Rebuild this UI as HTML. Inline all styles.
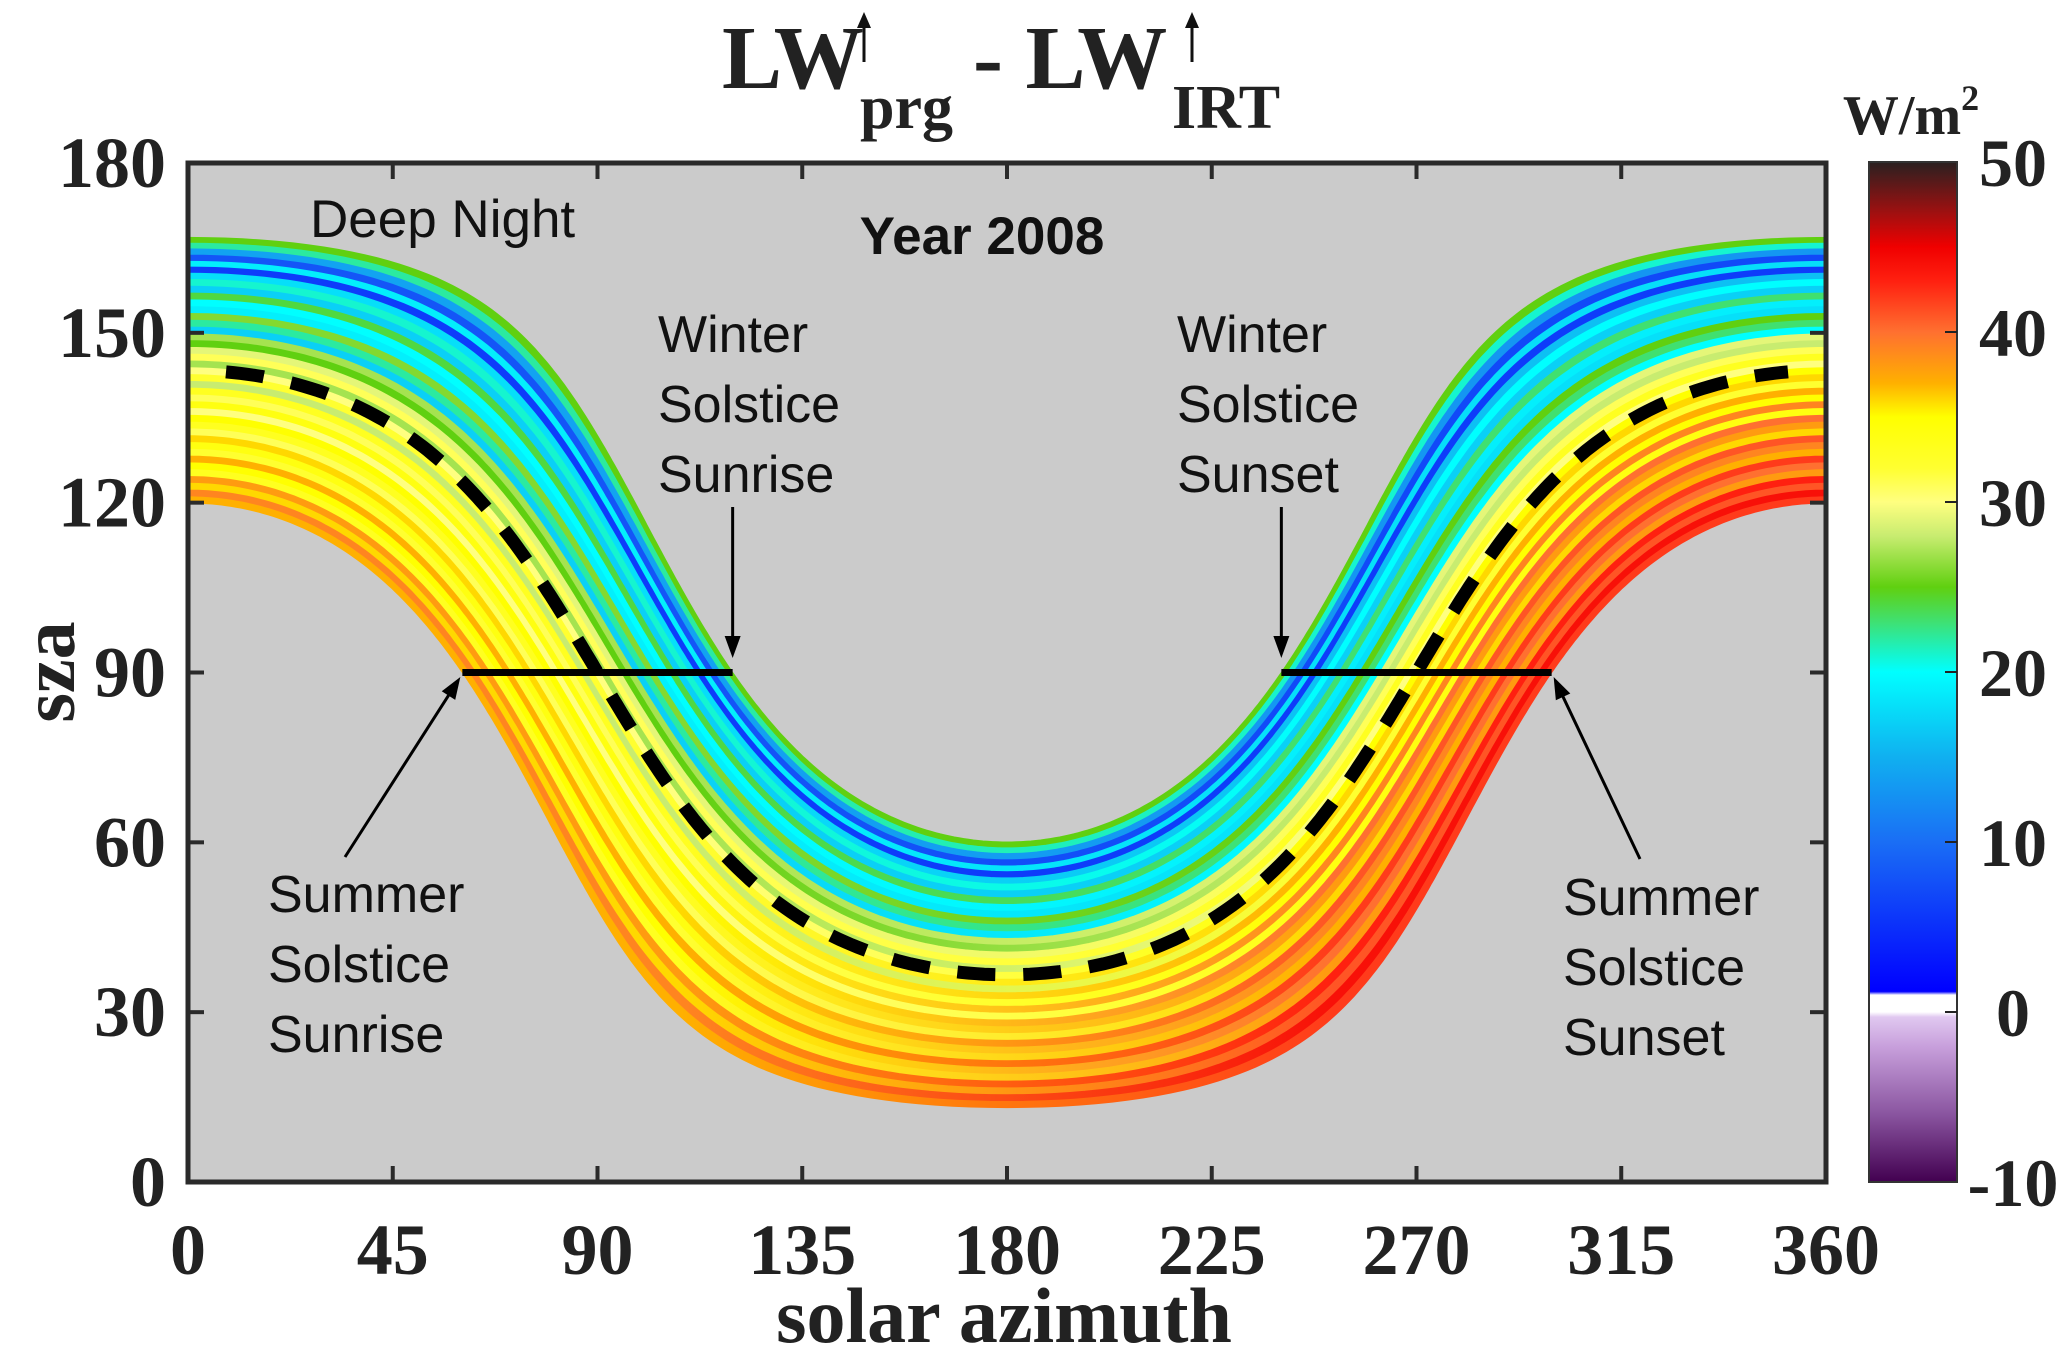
<!DOCTYPE html>
<html><head><meta charset="utf-8"><style>
html,body{margin:0;padding:0;background:#fff;}
svg{display:block;}
.tk{font-family:"Liberation Serif",serif;font-weight:bold;fill:#222;}
.an{font-family:"Liberation Sans",sans-serif;fill:#111;}
</style></head><body>
<svg id="chart" width="2067" height="1348" viewBox="0 0 2067 1348" xmlns="http://www.w3.org/2000/svg">
<defs id="defs"></defs>
<g>
<text class="tk" x="722" y="88" font-size="90" fill="#111">LW</text>
<line x1="864" y1="62" x2="864" y2="22" stroke="#111" stroke-width="3"/><polygon points="864,12 857,28 871,28" fill="#111"/>
<text class="tk" x="860" y="128" font-size="62" fill="#111">prg</text>
<text class="tk" x="973" y="88" font-size="90" fill="#111">- LW</text>
<line x1="1192" y1="62" x2="1192" y2="22" stroke="#111" stroke-width="3"/><polygon points="1192,12 1185,28 1199,28" fill="#111"/>
<text class="tk" x="1172" y="128" font-size="62" fill="#111">IRT</text>
</g>
<rect x="188" y="163" width="1638" height="1019" fill="#cbcbcb"/>
<g id="bands"></g>
<g id="overlay"></g>
<g id="axes"></g>
<g id="cbar"></g>
</svg>
<script>
// ----- data -----
const xTicks = [0,45,90,135,180,225,270,315,360];
const yTicks = [0,30,60,90,120,150,180];
const cbTicks = [-10,0,10,20,30,40,50];
const latitude = 36.6;
// band declinations (winter -> summer), edges
const bandDecl = [-23.44,-22.4,-21.4,-20.3,-19.2,-18.2,-17.1,-16,-14.8,-13.6,-12.4,-11.2,-10,-8.8,-7.6,-6.4,-5.2,-4,-2.8,-1.6,-0.4,0.8,2,3.2,4.4,5.6,6.8,8,9.2,10.4,11.6,12.8,14,15.2,16.4,17.6,18.8,20,21.2,22.4,23.44];
// LW difference per band (W/m2), morning and afternoon
const morningVals = [25,22,14,8,19,6,18,21,17,24,20,19,26,22,17,27,25,29,31,27,30,32,28,33,31,34,30,35,33,31,36,34,32,37,35,33,38,36,39,37];
const afternoonVals = [25,21,13,7,18,6,16,20,17,23,19,18,25,23,20,29,28,31,33,30,35,36,32,37,35,39,34,40,38,36,41,39,37,42,40,38,43,41,44,42];
const equinoxDecl = 0;
const summerDecl = 23.44, winterDecl = -23.44;
// colormap
const cmapVals = [-10,-6,-2,-0.3,0,1,1.2,10,15,20,23,25,28,30,32,35,37,40,43,45,47,50];
const cmapCols = ["#420050","#8a55a0","#c8a0dc","#e0c8f0","#ffffff","#ffffff","#0000ff","#1a6ef5","#10b0f0","#00ffff","#40e070","#60d010","#c8ec70","#ffff80","#ffff30","#ffff00","#ffb000","#ff7030","#ff2010","#f00000","#a01010","#2a2020"];

const NS='http://www.w3.org/2000/svg';
const X0=188,X1=1826,Y0=1182,Y1=163;
const xs=v=>X0+(v/360)*(X1-X0);
const ys=v=>Y0-(v/180)*(Y0-Y1);
const cs=v=>1182-(v+10)/60*1020;
function mk(tag,attrs,parent){const e=document.createElementNS(NS,tag);for(const k in attrs)e.setAttribute(k,attrs[k]);parent.appendChild(e);return e;}
function hex(c){return [parseInt(c.substr(1,2),16),parseInt(c.substr(3,2),16),parseInt(c.substr(5,2),16)];}
function cmap(v){
  if(v<=cmapVals[0])return cmapCols[0];
  for(let i=1;i<cmapVals.length;i++){if(v<=cmapVals[i]){const t=(v-cmapVals[i-1])/(cmapVals[i]-cmapVals[i-1]);const a=hex(cmapCols[i-1]),b=hex(cmapCols[i]);return 'rgb('+a.map((x,j)=>Math.round(x+(b[j]-x)*t)).join(',')+')';}}
  return cmapCols[cmapCols.length-1];
}
const R=Math.PI/180;
function sunPath(dec){
  const p=[];const phi=latitude*R,d=dec*R;
  for(let h=-180;h<=180;h+=1){
    const hr=h*R;
    const cz=Math.sin(phi)*Math.sin(d)+Math.cos(phi)*Math.cos(d)*Math.cos(hr);
    const sza=Math.acos(Math.max(-1,Math.min(1,cz)))/R;
    let az=Math.atan2(Math.sin(hr),Math.cos(hr)*Math.sin(phi)-Math.tan(d)*Math.cos(phi))/R+180;
    if(h===-180)az=0; if(h===180)az=360;
    p.push([az,sza]);
  }
  return p;
}
const defs=document.getElementById('defs');
const bands=document.getElementById('bands');
for(let i=0;i<bandDecl.length-1;i++){
  const a=sunPath(bandDecl[i]),b=sunPath(bandDecl[i+1]).reverse();
  const pts=a.concat(b).map(p=>xs(p[0]).toFixed(1)+','+ys(p[1]).toFixed(1)).join(' ');
  const g=mk('linearGradient',{id:'g'+i,gradientUnits:'userSpaceOnUse',x1:X0,x2:X1,y1:0,y2:0},defs);
  mk('stop',{offset:'0.3','stop-color':cmap(morningVals[i])},g);
  mk('stop',{offset:'0.7','stop-color':cmap(afternoonVals[i])},g);
  const pg=mk('polygon',{points:pts,fill:'url(#g'+i+')',stroke:'url(#g'+i+')','stroke-width':1.2},bands);
  
  
}
// equinox dashed line
const ov=document.getElementById('overlay');
const eq=sunPath(equinoxDecl).filter(p=>p[0]>=8&&p[0]<=352);
const eqL=mk('polyline',{points:eq.map(p=>xs(p[0]).toFixed(1)+','+ys(p[1]).toFixed(1)).join(' '),fill:'none',stroke:'#000','stroke-width':13,'stroke-dasharray':'38 28'},ov);


// sunrise azimuths at sza=90
function riseAz(dec){return Math.acos(Math.sin(dec*R)/Math.cos(latitude*R))/R;}
const sumRise=riseAz(summerDecl), winRise=riseAz(winterDecl);
const l1=mk('line',{x1:xs(sumRise),x2:xs(winRise),y1:ys(90),y2:ys(90),stroke:'#000','stroke-width':7},ov);


const l2=mk('line',{x1:xs(360-winRise),x2:xs(360-sumRise),y1:ys(90),y2:ys(90),stroke:'#000','stroke-width':7},ov);


function arrow(x1,y1,x2,y2,name){
  const g=mk('g',{},ov);
  
  
  const dx=x2-x1,dy=y2-y1,L=Math.hypot(dx,dy),ux=dx/L,uy=dy/L;
  mk('line',{x1:x1,y1:y1,x2:x2-ux*16,y2:y2-uy*16,stroke:'#000','stroke-width':3},g);
  const bx=x2-ux*22,by=y2-uy*22;
  mk('polygon',{points:`${x2},${y2} ${bx-uy*8},${by+ux*8} ${bx+uy*8},${by-ux*8}`,fill:'#000'},g);
}
arrow(xs(winRise),507,xs(winRise),658,'winter-sunrise-arrow');
arrow(xs(360-winRise),507,xs(360-winRise),658,'winter-sunset-arrow');
arrow(345,857,xs(sumRise)-2,677,'summer-sunrise-arrow');
arrow(1640,859,xs(360-sumRise)+2,677,'summer-sunset-arrow');
function txt(x,y,s,name,attrs,parent){const t=mk('text',Object.assign({x:x,y:y},attrs||{}),parent||ov);t.textContent=s;return t;}
txt(310,237,'Deep Night','deep-night-label',{'class':'an','font-size':53});
txt(982,254,'Year 2008','year-label',{'class':'an','font-size':53,'font-weight':'bold','text-anchor':'middle'});
const lines=[['Winter','Solstice','Sunrise',658,352],['Winter','Solstice','Sunset',1177,352],['Summer','Solstice','Sunrise',268,912],['Summer','Solstice','Sunset',1563,915]];
lines.forEach((L,k)=>{const nm=['winter-sunrise-label','winter-sunset-label','summer-sunrise-label','summer-sunset-label'][k];for(let j=0;j<3;j++)txt(L[3],L[4]+j*70,L[j],nm+'-'+(j+1),{'class':'an','font-size':52});});
// axes
const ax=document.getElementById('axes');
mk('rect',{x:X0,y:Y1,width:X1-X0,height:Y0-Y1,fill:'none',stroke:'#2a2a2a','stroke-width':5},ax);
xTicks.forEach(v=>{const x=xs(v);
  mk('line',{x1:x,x2:x,y1:Y0,y2:Y0-16,stroke:'#2a2a2a','stroke-width':4},ax);
  mk('line',{x1:x,x2:x,y1:Y1,y2:Y1+16,stroke:'#2a2a2a','stroke-width':4},ax);
  txt(x,1274,String(v),'x-tick-'+v,{'class':'tk','font-size':72,'text-anchor':'middle',fill:'#000'},ax);
});
yTicks.forEach(v=>{const y=ys(v);
  mk('line',{x1:X0,x2:X0+16,y1:y,y2:y,stroke:'#2a2a2a','stroke-width':4},ax);
  mk('line',{x1:X1,x2:X1-16,y1:y,y2:y,stroke:'#2a2a2a','stroke-width':4},ax);
  txt(166,y+24,String(v),'y-tick-'+v,{'class':'tk','font-size':72,'text-anchor':'end'},ax);
});
txt(1004,1342,'solar azimuth','x-axis-title',{'class':'tk','font-size':78,'text-anchor':'middle',fill:'#000'},ax);
txt(0,0,'sza','y-axis-title',{'class':'tk','font-size':76,'text-anchor':'middle',transform:'translate(74,672) rotate(-90)'},ax);
// colorbar
const cb=document.getElementById('cbar');
const cg=mk('linearGradient',{id:'cbg',x1:0,x2:0,y1:1,y2:0},defs);
cmapVals.forEach((v,i)=>mk('stop',{offset:((v+10)/60).toFixed(4),'stop-color':cmapCols[i]},cg));
mk('rect',{x:1869,y:162,width:88,height:1020,fill:'url(#cbg)',stroke:'#333','stroke-width':2},cb);
cbTicks.forEach(v=>{const y=cs(v);
  if(v>-10&&v<50)mk('line',{x1:1957,x2:1945,y1:y,y2:y,stroke:'#222','stroke-width':2},cb);
  txt(2013,y+24,String(v),'colorbar-tick-'+v,{'class':'tk','font-size':68,'text-anchor':'middle'},cb);
});
txt(1911,134,'W/m','colorbar-unit',{'class':'tk','font-size':56,'text-anchor':'middle'},cb).innerHTML='W/m<tspan font-size="36" dy="-24">2</tspan>';
</script>
</body></html>
